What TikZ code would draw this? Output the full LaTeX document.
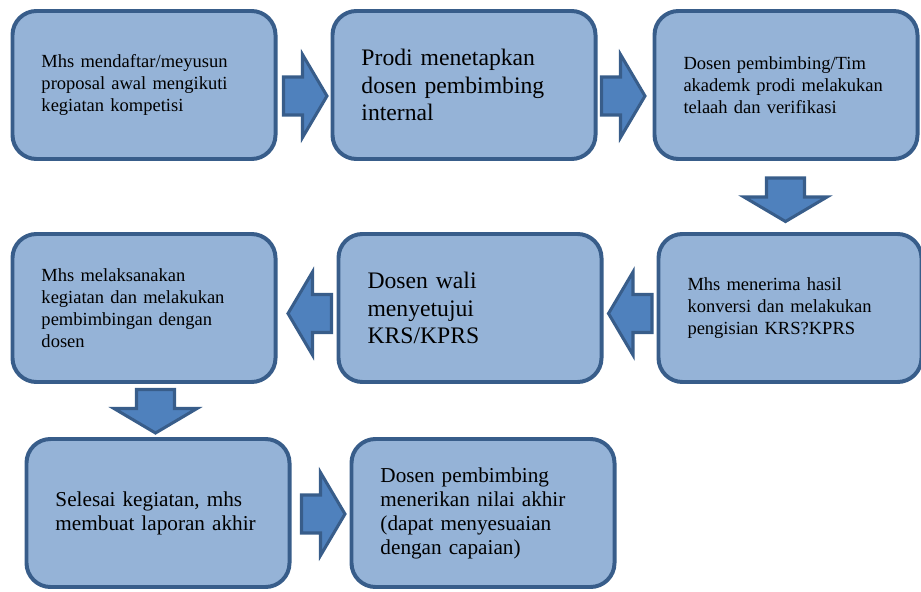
\documentclass[tikz,border=0pt]{standalone}
\usepackage{fontspec}
\setmainfont{Liberation Serif}
\usetikzlibrary{calc}
\definecolor{boxfill}{HTML}{95B3D7}
\definecolor{boxline}{HTML}{385D8A}
\definecolor{arrowfill}{HTML}{4F81BD}
\newcommand{\fsmall}{\fontsize{15.8pt}{18.8pt}\selectfont}
\newcommand{\fmid}{\fontsize{18.1pt}{20.5pt}\selectfont}
\newcommand{\fbig}{\fontsize{20.2pt}{23.6pt}\selectfont}

\begin{document}
\begin{tikzpicture}[x=0.03cm,y=-0.03cm,
	stepbox/.style={draw=boxline,fill=boxfill,line width=3.4pt,rounded corners=0.72cm,
		minimum width=7.89cm,minimum height=4.44cm,text width=6.15cm,inner xsep=0.87cm,
		align=left},
	blockarrow/.pic={
		\draw[boxline,fill=arrowfill,line width=2.6pt]
			(-22,-19) -- (-3,-19) -- (-3,-41.5) -- (21.5,0) -- (-3,41.5) -- (-3,19) -- (-22,19) -- cycle;}]
	\useasboundingbox (0,0) rectangle (921,592);
	\foreach \n/\x/\y/\f/\txt in {
			A/144/85/\fsmall/{Mhs mendaftar/meyusun\\proposal awal mengikuti\\kegiatan kompetisi},
			B/464/85/\fbig/{Prodi menetapkan\\dosen pembimbing\\internal},
			C/786/85/\fsmall/{Dosen pembimbing/Tim\\akademk prodi melakukan\\telaah dan verifikasi},
			D/144/308/\fsmall/{Mhs melaksanakan\\kegiatan dan melakukan\\pembimbingan dengan\\dosen},
			E/470/308/\fbig/{Dosen wali\\menyetujui\\KRS/KPRS},
			F/790/308/\fsmall/{Mhs menerima hasil\\konversi dan melakukan\\pengisian KRS?KPRS},
			G/158/513/\fmid/{Selesai kegiatan, mhs\\membuat laporan akhir},
			H/483/513/\fmid/{Dosen pembimbing\\menerikan nilai akhir\\(dapat menyesuaian\\dengan capaian)}}
		\node[stepbox,font=\f] (\n) at (\x,\y) {\txt};
	% block arrows between the boxes
	\foreach \a/\b/\r/\dx/\dy in {A/B/0/1.5/11, B/C/0/-1.5/11, F/E/180/0/5.5, E/D/180/2.5/5.5,
			G/H/0/3/1, C/F/-90/-2.5/3.5, D/G/-90/4.5/1}
		\pic[rotate=\r] at ($(\a)!0.5!(\b)+(\dx,\dy)$) {blockarrow};
\end{tikzpicture}
\end{document}
